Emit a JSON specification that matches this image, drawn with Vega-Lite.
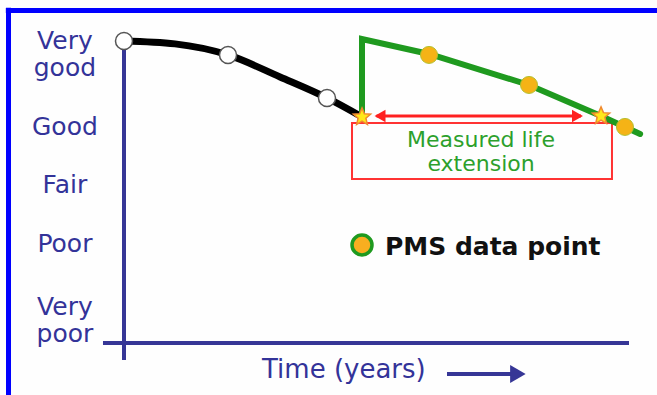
{
  "$schema": "https://vega.github.io/schema/vega-lite/v6.json",
  "width": 505,
  "height": 314,
  "autosize": {"type": "none"},
  "padding": {"left": 124, "top": 29, "right": 28, "bottom": 52},
  "background": "#fefefe",
  "config": {"view": {"stroke": null}},
  "datasets": {
    "frame": [
      {"t": -2.34, "v": 6.033, "t2": 10.6, "v2": 6.033},
      {"t": -2.287, "v": 6.08, "t2": -2.287, "v2": -0.66}
    ],
    "axes": [
      {"t": 0, "v": 5.485, "t2": 0, "v2": -0.046},
      {"t": -0.416, "v": 0.25, "t2": 10, "v2": 0.25}
    ],
    "box": [{"t": 4.515, "v": 4.076, "t2": 9.663, "v2": 3.102}],
    "redArrow": [{"t": 5.0, "v": 4.198, "t2": 9.05, "v2": 4.198}],
    "redLeft": [{"t": 5.07, "v": 4.198}],
    "redRight": [{"t": 8.98, "v": 4.198}],
    "timeArrow": [{"t": 6.396, "v": -0.289, "t2": 7.7, "v2": -0.289}],
    "timeHead": [{"t": 7.8, "v": -0.289}],
    "baseline": [
      {"t": 0, "v": 5.502},
      {"t": 1.01, "v": 5.451},
      {"t": 2.06, "v": 5.259},
      {"t": 3.09, "v": 4.876},
      {"t": 4.02, "v": 4.511},
      {"t": 4.713, "v": 4.18}
    ],
    "pms": [
      {"i": 0, "t": 4.713, "v": 4.18},
      {"i": 1, "t": 4.713, "v": 5.537},
      {"i": 2, "t": 6.04, "v": 5.276},
      {"i": 3, "t": 8.02, "v": 4.737},
      {"i": 4, "t": 9.446, "v": 4.198},
      {"i": 5, "t": 9.92, "v": 4.007},
      {"i": 6, "t": 10.22, "v": 3.885}
    ],
    "inspections": [
      {"t": 0, "v": 5.502},
      {"t": 2.06, "v": 5.259},
      {"t": 4.02, "v": 4.511}
    ],
    "pmsPoints": [
      {"t": 6.04, "v": 5.259},
      {"t": 8.02, "v": 4.737},
      {"t": 9.92, "v": 4.007}
    ],
    "stars": [
      {"t": 4.713, "v": 4.18},
      {"t": 9.446, "v": 4.198}
    ],
    "legendPoint": [{"t": 4.713, "v": 1.954}],
    "legendText": [{"t": 5.168, "v": 1.78, "label": "PMS data point"}],
    "ylabels": [
      {"t": -1.17, "v": 5.363, "label": "Very\ngood"},
      {"t": -1.17, "v": 3.867, "label": "Good"},
      {"t": -1.17, "v": 2.859, "label": "Fair"},
      {"t": -1.17, "v": 1.833, "label": "Poor"},
      {"t": -1.17, "v": 0.737, "label": "Very\npoor"}
    ],
    "measured": [{"t": 7.07, "v": 3.659, "label": "Measured life\nextension"}],
    "timeLabel": [{"t": 2.733, "v": -0.359, "label": "Time (years)"}]
  },
  "encoding": {
    "x": {"field": "t", "type": "quantitative", "scale": {"domain": [0, 10], "nice": false, "zero": false}, "axis": null},
    "y": {"field": "v", "type": "quantitative", "scale": {"domain": [0.25, 5.71], "nice": false, "zero": false}, "axis": null}
  },
  "layer": [
    {
      "data": {"name": "frame"},
      "mark": {"type": "rule", "color": "#0000ff", "strokeWidth": 5},
      "encoding": {"x2": {"field": "t2"}, "y2": {"field": "v2"}}
    },
    {
      "data": {"name": "axes"},
      "mark": {"type": "rule", "color": "#363696", "strokeWidth": 4},
      "encoding": {"x2": {"field": "t2"}, "y2": {"field": "v2"}}
    },
    {
      "data": {"name": "box"},
      "mark": {"type": "rect", "fill": null, "fillOpacity": 0, "stroke": "#ff3333", "strokeWidth": 2},
      "encoding": {"x2": {"field": "t2"}, "y2": {"field": "v2"}}
    },
    {
      "data": {"name": "redArrow"},
      "mark": {"type": "rule", "color": "#ff2020", "strokeWidth": 3},
      "encoding": {"x2": {"field": "t2"}, "y2": {"field": "v2"}}
    },
    {
      "data": {"name": "redLeft"},
      "mark": {"type": "point", "shape": "triangle-left", "filled": true, "color": "#ff2020", "size": 160, "opacity": 1}
    },
    {
      "data": {"name": "redRight"},
      "mark": {"type": "point", "shape": "triangle-right", "filled": true, "color": "#ff2020", "size": 160, "opacity": 1}
    },
    {
      "data": {"name": "timeArrow"},
      "mark": {"type": "rule", "color": "#363696", "strokeWidth": 4},
      "encoding": {"x2": {"field": "t2"}, "y2": {"field": "v2"}}
    },
    {
      "data": {"name": "timeHead"},
      "mark": {"type": "point", "shape": "triangle-right", "filled": true, "color": "#363696", "size": 320, "opacity": 1}
    },
    {
      "data": {"name": "baseline"},
      "mark": {"type": "line", "color": "#000000", "strokeWidth": 7, "interpolate": "monotone", "strokeCap": "round"}
    },
    {
      "data": {"name": "pms"},
      "mark": {"type": "line", "color": "#1f9a1f", "strokeWidth": 6, "strokeCap": "round", "strokeJoin": "miter"},
      "encoding": {"order": {"field": "i", "type": "quantitative"}}
    },
    {
      "data": {"name": "inspections"},
      "mark": {"type": "point", "shape": "circle", "filled": true, "fill": "#ffffff", "stroke": "#555555", "strokeWidth": 1.5, "size": 290, "opacity": 1}
    },
    {
      "data": {"name": "pmsPoints"},
      "mark": {"type": "point", "shape": "circle", "filled": true, "fill": "#f5b316", "stroke": "#b5c030", "strokeWidth": 1, "size": 290, "opacity": 1}
    },
    {
      "data": {"name": "stars"},
      "mark": {"type": "point", "shape": "M0,-1L0.265,-0.364L0.951,-0.309L0.428,0.139L0.588,0.809L0,0.45L-0.588,0.809L-0.428,0.139L-0.951,-0.309L-0.265,-0.364Z", "filled": true, "fill": "#ffe81a", "stroke": "#f08a30", "strokeWidth": 1.5, "size": 330, "opacity": 1}
    },
    {
      "data": {"name": "legendPoint"},
      "mark": {"type": "point", "shape": "circle", "filled": true, "fill": "#f8ae20", "stroke": "#1f9a1f", "strokeWidth": 3.5, "size": 400, "opacity": 1}
    },
    {
      "data": {"name": "legendText"},
      "mark": {"type": "text", "align": "left", "baseline": "alphabetic", "font": "DejaVu Sans", "fontSize": 25, "fontWeight": "bold", "color": "#111111"},
      "encoding": {"text": {"field": "label"}}
    },
    {
      "data": {"name": "ylabels"},
      "mark": {"type": "text", "align": "center", "baseline": "alphabetic", "font": "DejaVu Sans", "fontSize": 25, "lineBreak": "\n", "lineHeight": 27, "color": "#333399"},
      "encoding": {"text": {"field": "label"}}
    },
    {
      "data": {"name": "measured"},
      "mark": {"type": "text", "align": "center", "baseline": "alphabetic", "font": "DejaVu Sans", "fontSize": 22, "lineBreak": "\n", "lineHeight": 24, "color": "#2ca02c"},
      "encoding": {"text": {"field": "label"}}
    },
    {
      "data": {"name": "timeLabel"},
      "mark": {"type": "text", "align": "left", "baseline": "alphabetic", "font": "DejaVu Sans", "fontSize": 26, "color": "#333399"},
      "encoding": {"text": {"field": "label"}}
    }
  ]
}
